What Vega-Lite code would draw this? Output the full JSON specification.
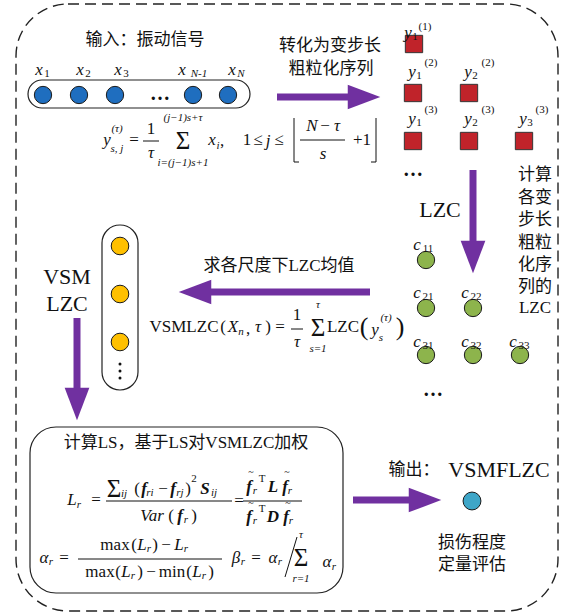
{
  "$schema": "https://vega.github.io/schema/vega-lite/v6.json",
  "width": 570,
  "height": 614,
  "autosize": {"type": "fit", "contains": "padding"},
  "padding": 0,
  "background": "white",
  "config": {"view": {"stroke": null}},
  "datasets": {
    "outer": [{"x": 16, "x2": 558, "y": 4, "y2": 611}],
    "capBlue": [{"x": 28, "x2": 250, "y": 80, "y2": 108}],
    "capYellow": [{"x": 102, "x2": 138, "y": 225, "y2": 390}],
    "boxLS": [{"x": 30, "x2": 343, "y": 427, "y2": 593}],
    "shafts": [
      {"x": 277, "y": 97, "x2": 352, "y2": 97},
      {"x": 473, "y": 170, "x2": 473, "y2": 243},
      {"x": 208, "y": 292, "x2": 370, "y2": 292},
      {"x": 77, "y": 318, "x2": 77, "y2": 390},
      {"x": 353, "y": 500, "x2": 410, "y2": 500}
    ],
    "headR": [{"x": 364, "y": 97}, {"x": 425, "y": 500}],
    "headL": [{"x": 195, "y": 292}],
    "headD": [{"x": 473, "y": 257}, {"x": 77, "y": 404}],
    "thin": [
      {"x": 143, "y": 141, "x2": 159, "y2": 141},
      {"x": 300, "y": 140, "x2": 345, "y2": 140},
      {"x": 291, "y": 329, "x2": 303, "y2": 329},
      {"x": 106, "y": 501, "x2": 232, "y2": 501},
      {"x": 243, "y": 501, "x2": 302, "y2": 501},
      {"x": 78, "y": 559, "x2": 222, "y2": 559},
      {"x": 294, "y": 118, "x2": 294, "y2": 162},
      {"x": 294, "y": 162, "x2": 299, "y2": 162},
      {"x": 376, "y": 118, "x2": 376, "y2": 162},
      {"x": 371, "y": 162, "x2": 376, "y2": 162},
      {"x": 285, "y": 577, "x2": 297, "y2": 537}
    ],
    "blue": [{"x": 43, "y": 95}, {"x": 79, "y": 95}, {"x": 115, "y": 95}, {"x": 193, "y": 95}, {"x": 228, "y": 95}],
    "red": [{"x": 414, "y": 44}, {"x": 413, "y": 93}, {"x": 469, "y": 93}, {"x": 413, "y": 141}, {"x": 469, "y": 141}, {"x": 524, "y": 141}],
    "green": [{"x": 426, "y": 260}, {"x": 426, "y": 308}, {"x": 473, "y": 308}, {"x": 426, "y": 355}, {"x": 473, "y": 355}, {"x": 520, "y": 355}],
    "yellow": [{"x": 120, "y": 246}, {"x": 120, "y": 294}, {"x": 120, "y": 342}],
    "cyan": [{"x": 472, "y": 501}],
    "vdots": [{"x": 120, "y": 364}, {"x": 120, "y": 371}, {"x": 120, "y": 378}],
    "cjk": [
      {"x": 145, "y": 40, "t": "输入：振动信号"},
      {"x": 330, "y": 46, "t": "转化为变步长"},
      {"x": 331, "y": 69, "t": "粗粒化序列"},
      {"x": 535, "y": 175, "t": "计算"},
      {"x": 535, "y": 198, "t": "各变"},
      {"x": 535, "y": 220, "t": "步长"},
      {"x": 535, "y": 243, "t": "粗粒"},
      {"x": 535, "y": 265, "t": "化序"},
      {"x": 535, "y": 287, "t": "列的"},
      {"x": 279, "y": 266, "t": "求各尺度下LZC均值"},
      {"x": 186, "y": 443, "t": "计算LS，基于LS对VSMLZC加权"},
      {"x": 414, "y": 470, "t": "输出："},
      {"x": 472, "y": 543, "t": "损伤程度"},
      {"x": 472, "y": 565, "t": "定量评估"}
    ],
    "big": [
      {"x": 67, "y": 277, "t": "VSM"},
      {"x": 67, "y": 304, "t": "LZC"},
      {"x": 440, "y": 210, "t": "LZC"},
      {"x": 499, "y": 470, "t": "VSMFLZC"}
    ],
    "rm": [
      {"x": 535, "y": 308, "t": "LZC"},
      {"x": 134, "y": 140, "t": "="},
      {"x": 151, "y": 129, "t": "1"},
      {"x": 222, "y": 141, "t": ","},
      {"x": 247, "y": 140, "t": "1"},
      {"x": 258, "y": 140, "t": "≤"},
      {"x": 279, "y": 140, "t": "≤"},
      {"x": 325, "y": 126, "t": "−"},
      {"x": 362, "y": 140, "t": "+1"},
      {"x": 184, "y": 327, "t": "VSMLZC"},
      {"x": 223, "y": 327, "t": "("},
      {"x": 248, "y": 329, "t": ","},
      {"x": 268, "y": 327, "t": ")"},
      {"x": 280, "y": 327, "t": "="},
      {"x": 297, "y": 315, "t": "1"},
      {"x": 343, "y": 327, "t": "LZC"},
      {"x": 96, "y": 500, "t": "="},
      {"x": 137, "y": 489, "t": "("},
      {"x": 163, "y": 489, "t": "−"},
      {"x": 188, "y": 489, "t": ")"},
      {"x": 171, "y": 516, "t": "("},
      {"x": 194, "y": 516, "t": ")"},
      {"x": 239, "y": 501, "t": "="},
      {"x": 64, "y": 558, "t": "="},
      {"x": 115, "y": 545, "t": "max"},
      {"x": 134, "y": 545, "t": "("},
      {"x": 155, "y": 545, "t": ")"},
      {"x": 166, "y": 545, "t": "−"},
      {"x": 100, "y": 572, "t": "max"},
      {"x": 118, "y": 572, "t": "("},
      {"x": 140, "y": 572, "t": ")"},
      {"x": 151, "y": 572, "t": "−"},
      {"x": 172, "y": 572, "t": "min"},
      {"x": 189, "y": 572, "t": "("},
      {"x": 211, "y": 572, "t": ")"},
      {"x": 256, "y": 558, "t": "="}
    ],
    "it": [
      {"x": 39, "y": 70, "t": "x"},
      {"x": 80, "y": 70, "t": "x"},
      {"x": 118, "y": 70, "t": "x"},
      {"x": 182, "y": 70, "t": "x"},
      {"x": 232, "y": 70, "t": "x"},
      {"x": 408, "y": 33, "t": "y"},
      {"x": 412, "y": 72, "t": "y"},
      {"x": 468, "y": 72, "t": "y"},
      {"x": 412, "y": 119, "t": "y"},
      {"x": 468, "y": 119, "t": "y"},
      {"x": 523, "y": 119, "t": "y"},
      {"x": 417, "y": 245, "t": "c"},
      {"x": 417, "y": 293, "t": "c"},
      {"x": 465, "y": 293, "t": "c"},
      {"x": 417, "y": 342, "t": "c"},
      {"x": 465, "y": 342, "t": "c"},
      {"x": 513, "y": 342, "t": "c"},
      {"x": 107, "y": 140, "t": "y"},
      {"x": 151, "y": 153, "t": "τ"},
      {"x": 212, "y": 140, "t": "x"},
      {"x": 268, "y": 141, "t": "j"},
      {"x": 312, "y": 126, "t": "N"},
      {"x": 337, "y": 126, "t": "τ"},
      {"x": 323, "y": 154, "t": "s"},
      {"x": 233, "y": 327, "t": "X"},
      {"x": 258, "y": 327, "t": "τ"},
      {"x": 297, "y": 342, "t": "τ"},
      {"x": 375, "y": 330, "t": "y"},
      {"x": 72, "y": 500, "t": "L"},
      {"x": 152, "y": 516, "t": "Var"},
      {"x": 142, "y": 545, "t": "L"},
      {"x": 179, "y": 545, "t": "L"},
      {"x": 126, "y": 572, "t": "L"},
      {"x": 197, "y": 572, "t": "L"},
      {"x": 44, "y": 558, "t": "α"},
      {"x": 236, "y": 558, "t": "β"},
      {"x": 273, "y": 558, "t": "α"},
      {"x": 327, "y": 562, "t": "α"}
    ],
    "sm": [
      {"x": 47, "y": 74, "t": "1"},
      {"x": 88, "y": 74, "t": "2"},
      {"x": 126, "y": 74, "t": "3"},
      {"x": 415, "y": 37, "t": "1"},
      {"x": 425, "y": 27, "t": "(1)"},
      {"x": 419, "y": 76, "t": "1"},
      {"x": 431, "y": 63, "t": "(2)"},
      {"x": 475, "y": 76, "t": "2"},
      {"x": 488, "y": 63, "t": "(2)"},
      {"x": 419, "y": 123, "t": "1"},
      {"x": 431, "y": 110, "t": "(3)"},
      {"x": 475, "y": 123, "t": "2"},
      {"x": 488, "y": 110, "t": "(3)"},
      {"x": 530, "y": 123, "t": "3"},
      {"x": 542, "y": 110, "t": "(3)"},
      {"x": 428, "y": 249, "t": "11"},
      {"x": 428, "y": 297, "t": "21"},
      {"x": 476, "y": 297, "t": "22"},
      {"x": 428, "y": 346, "t": "31"},
      {"x": 476, "y": 346, "t": "32"},
      {"x": 524, "y": 346, "t": "33"},
      {"x": 194, "y": 479, "t": "2"},
      {"x": 262, "y": 479, "t": "T"},
      {"x": 262, "y": 509, "t": "T"}
    ],
    "smit": [
      {"x": 199, "y": 74, "t": "N-1"},
      {"x": 241, "y": 74, "t": "N"},
      {"x": 117, "y": 129, "t": "(τ)"},
      {"x": 117, "y": 149, "t": "s, j"},
      {"x": 183, "y": 118, "t": "(j−1)s+τ"},
      {"x": 183, "y": 163, "t": "i=(j−1)s+1"},
      {"x": 218, "y": 146, "t": "i"},
      {"x": 241, "y": 332, "t": "n"},
      {"x": 318, "y": 305, "t": "τ"},
      {"x": 318, "y": 349, "t": "s=1"},
      {"x": 386, "y": 318, "t": "(τ)"},
      {"x": 381, "y": 338, "t": "s"},
      {"x": 79, "y": 505, "t": "r"},
      {"x": 124, "y": 494, "t": "ij"},
      {"x": 150, "y": 493, "t": "ri"},
      {"x": 180, "y": 493, "t": "rj"},
      {"x": 214, "y": 493, "t": "ij"},
      {"x": 186, "y": 520, "t": "r"},
      {"x": 255, "y": 491, "t": "r"},
      {"x": 290, "y": 491, "t": "r"},
      {"x": 255, "y": 521, "t": "r"},
      {"x": 291, "y": 521, "t": "r"},
      {"x": 51, "y": 562, "t": "r"},
      {"x": 149, "y": 549, "t": "r"},
      {"x": 186, "y": 549, "t": "r"},
      {"x": 133, "y": 576, "t": "r"},
      {"x": 204, "y": 576, "t": "r"},
      {"x": 243, "y": 562, "t": "r"},
      {"x": 280, "y": 562, "t": "r"},
      {"x": 301, "y": 535, "t": "τ"},
      {"x": 301, "y": 579, "t": "r=1"},
      {"x": 334, "y": 567, "t": "r"}
    ],
    "bi": [
      {"x": 144, "y": 489, "t": "f"},
      {"x": 173, "y": 489, "t": "f"},
      {"x": 205, "y": 489, "t": "S"},
      {"x": 180, "y": 516, "t": "f"},
      {"x": 249, "y": 487, "t": "f"},
      {"x": 273, "y": 487, "t": "L"},
      {"x": 285, "y": 487, "t": "f"},
      {"x": 249, "y": 517, "t": "f"},
      {"x": 273, "y": 517, "t": "D"},
      {"x": 286, "y": 517, "t": "f"}
    ],
    "tilde": [
      {"x": 251, "y": 472, "t": "~"},
      {"x": 287, "y": 472, "t": "~"},
      {"x": 251, "y": 503, "t": "~"},
      {"x": 288, "y": 503, "t": "~"}
    ],
    "sig": [
      {"x": 183, "y": 141, "t": "Σ"},
      {"x": 318, "y": 328, "t": "Σ"},
      {"x": 301, "y": 558, "t": "Σ"},
      {"x": 114, "y": 489, "t": "Σ"}
    ],
    "paren": [
      {"x": 364, "y": 327, "t": "("},
      {"x": 400, "y": 327, "t": ")"}
    ],
    "dots": [
      {"x": 160, "y": 94, "t": "…"},
      {"x": 413, "y": 170, "t": "…"},
      {"x": 433, "y": 390, "t": "…"}
    ]
  },
  "encoding": {
    "x": {"field": "x", "type": "quantitative", "scale": {"domain": [0, 570], "nice": false, "zero": false}, "axis": null},
    "y": {"field": "y", "type": "quantitative", "scale": {"domain": [0, 614], "nice": false, "zero": false, "reverse": true}, "axis": null}
  },
  "layer": [
    {"data": {"name": "outer"}, "mark": {"type": "rect", "fillOpacity": 0, "stroke": "#222", "strokeWidth": 1.4, "strokeDash": [11, 6], "cornerRadius": 52}, "encoding": {"x2": {"field": "x2"}, "y2": {"field": "y2"}}},
    {"data": {"name": "capBlue"}, "mark": {"type": "rect", "fillOpacity": 0, "stroke": "#222", "strokeWidth": 1.2, "cornerRadius": 14}, "encoding": {"x2": {"field": "x2"}, "y2": {"field": "y2"}}},
    {"data": {"name": "capYellow"}, "mark": {"type": "rect", "fillOpacity": 0, "stroke": "#222", "strokeWidth": 1.2, "cornerRadius": 18}, "encoding": {"x2": {"field": "x2"}, "y2": {"field": "y2"}}},
    {"data": {"name": "boxLS"}, "mark": {"type": "rect", "fillOpacity": 0, "stroke": "#222", "strokeWidth": 1.2, "cornerRadius": 26}, "encoding": {"x2": {"field": "x2"}, "y2": {"field": "y2"}}},
    {"data": {"name": "shafts"}, "mark": {"type": "rule", "stroke": "#7030A0", "strokeWidth": 7}, "encoding": {"x2": {"field": "x2"}, "y2": {"field": "y2"}}},
    {"data": {"name": "headR"}, "mark": {"type": "point", "shape": "M-1,-0.76L1,0L-1,0.76Z", "filled": true, "size": 1060, "fill": "#7030A0", "opacity": 1}},
    {"data": {"name": "headL"}, "mark": {"type": "point", "shape": "M1,-0.76L-1,0L1,0.76Z", "filled": true, "size": 1060, "fill": "#7030A0", "opacity": 1}},
    {"data": {"name": "headD"}, "mark": {"type": "point", "shape": "M-0.76,-1L0,1L0.76,-1Z", "filled": true, "size": 1060, "fill": "#7030A0", "opacity": 1}},
    {"data": {"name": "thin"}, "mark": {"type": "rule", "stroke": "#111", "strokeWidth": 1}, "encoding": {"x2": {"field": "x2"}, "y2": {"field": "y2"}}},
    {"data": {"name": "blue"}, "mark": {"type": "point", "shape": "circle", "filled": true, "size": 300, "fill": "#1F6EBF", "stroke": "#1a1a1a", "strokeWidth": 1, "opacity": 1}},
    {"data": {"name": "red"}, "mark": {"type": "point", "shape": "square", "filled": true, "size": 300, "fill": "#C0232A", "stroke": "#333", "strokeWidth": 1, "opacity": 1}},
    {"data": {"name": "green"}, "mark": {"type": "point", "shape": "circle", "filled": true, "size": 300, "fill": "#8DB44C", "stroke": "#1a1a1a", "strokeWidth": 1, "opacity": 1}},
    {"data": {"name": "yellow"}, "mark": {"type": "point", "shape": "circle", "filled": true, "size": 310, "fill": "#FFC000", "stroke": "#1a1a1a", "strokeWidth": 1, "opacity": 1}},
    {"data": {"name": "cyan"}, "mark": {"type": "point", "shape": "circle", "filled": true, "size": 320, "fill": "#3EA6C8", "stroke": "#1a1a1a", "strokeWidth": 1, "opacity": 1}},
    {"data": {"name": "vdots"}, "mark": {"type": "point", "shape": "circle", "filled": true, "size": 9, "fill": "#111", "opacity": 1}},
    {"data": {"name": "cjk"}, "mark": {"type": "text", "font": "Liberation Serif, Times New Roman, Noto Sans CJK SC, serif", "fontSize": 17, "fill": "#111", "baseline": "middle", "align": "center"}, "encoding": {"text": {"field": "t"}}},
    {"data": {"name": "big"}, "mark": {"type": "text", "font": "Liberation Serif, Times New Roman, serif", "fontSize": 22, "fill": "#111", "baseline": "middle", "align": "center"}, "encoding": {"text": {"field": "t"}}},
    {"data": {"name": "rm"}, "mark": {"type": "text", "font": "Liberation Serif, Times New Roman, serif", "fontSize": 17, "fill": "#111", "baseline": "middle", "align": "center"}, "encoding": {"text": {"field": "t"}}},
    {"data": {"name": "it"}, "mark": {"type": "text", "font": "Liberation Serif, Times New Roman, serif", "fontSize": 17, "fontStyle": "italic", "fill": "#111", "baseline": "middle", "align": "center"}, "encoding": {"text": {"field": "t"}}},
    {"data": {"name": "sm"}, "mark": {"type": "text", "font": "Liberation Serif, Times New Roman, serif", "fontSize": 11, "fill": "#111", "baseline": "middle", "align": "center"}, "encoding": {"text": {"field": "t"}}},
    {"data": {"name": "smit"}, "mark": {"type": "text", "font": "Liberation Serif, Times New Roman, serif", "fontSize": 11, "fontStyle": "italic", "fill": "#111", "baseline": "middle", "align": "center"}, "encoding": {"text": {"field": "t"}}},
    {"data": {"name": "bi"}, "mark": {"type": "text", "font": "Liberation Serif, Times New Roman, serif", "fontSize": 17, "fontStyle": "italic", "fontWeight": "bold", "fill": "#111", "baseline": "middle", "align": "center"}, "encoding": {"text": {"field": "t"}}},
    {"data": {"name": "tilde"}, "mark": {"type": "text", "font": "Liberation Serif, Times New Roman, serif", "fontSize": 10, "fill": "#111", "baseline": "middle", "align": "center"}, "encoding": {"text": {"field": "t"}}},
    {"data": {"name": "sig"}, "mark": {"type": "text", "font": "Liberation Serif, Times New Roman, serif", "fontSize": 25, "fill": "#111", "baseline": "middle", "align": "center"}, "encoding": {"text": {"field": "t"}}},
    {"data": {"name": "paren"}, "mark": {"type": "text", "font": "Liberation Serif, Times New Roman, serif", "fontSize": 26, "fill": "#111", "baseline": "middle", "align": "center"}, "encoding": {"text": {"field": "t"}}},
    {"data": {"name": "dots"}, "mark": {"type": "text", "font": "Liberation Serif, Times New Roman, serif", "fontSize": 20, "fontWeight": "bold", "fill": "#111", "baseline": "middle", "align": "center"}, "encoding": {"text": {"field": "t"}}}
  ]
}
